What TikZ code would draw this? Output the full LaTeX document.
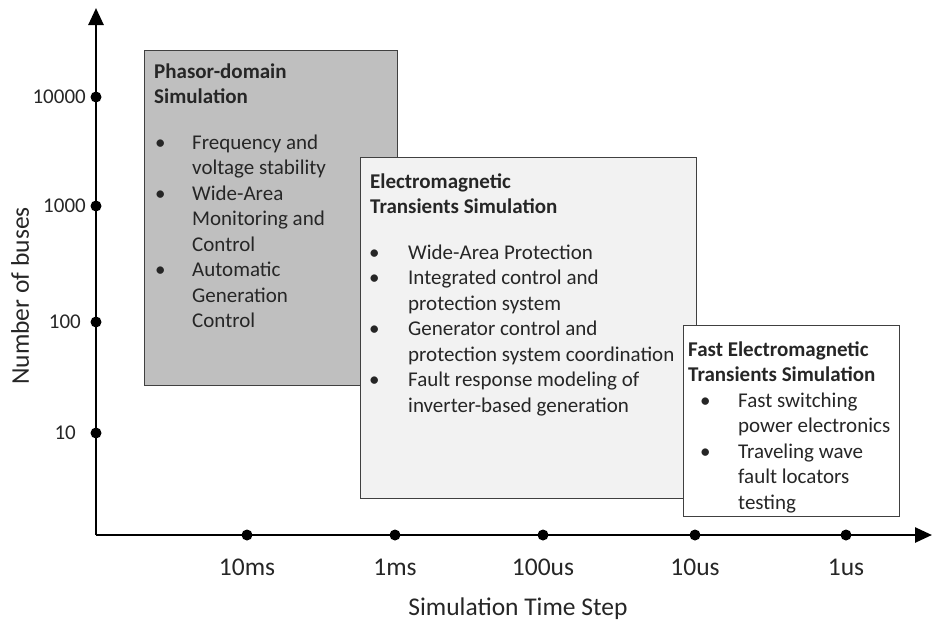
\documentclass[tikz,border=0pt]{standalone}
\usepackage{fontspec}
\setmainfont{Carlito}
\usepackage{array}
\usetikzlibrary{arrows.meta}

\definecolor{phasorgray}{RGB}{191,191,191}
\definecolor{emtgray}{RGB}{242,242,242}
\definecolor{frameline}{RGB}{64,64,64}
\definecolor{inktext}{RGB}{38,38,38}

\newcommand{\boxtitle}[1]{\multicolumn{2}{@{}l@{}}{\textbf{#1}}}

\begin{document}
\begin{tikzpicture}[x=1pt,y=-1pt,
  >={Triangle[length=17pt,width=15pt]},
  axis/.style={line width=2.6pt,->},
  tick dot/.style={circle,fill=black,inner sep=0pt,minimum size=11pt},
  sim box/.style={rectangle,draw=frameline,line width=1.4pt,anchor=north west,inner sep=0pt},
  box text/.style={anchor=base west,inner sep=0pt,text=inktext,
    font=\fontsize{21}{25.5}\selectfont},
  tick label/.style={inner sep=0pt,text=inktext,font=\fontsize{21}{25}\selectfont},
  axis label/.style={inner sep=0pt,text=inktext,font=\fontsize{25.5}{30}\selectfont}]

  \useasboundingbox (0,0) rectangle (932,622);

  % axes
  \coordinate (origin) at (96,535);
  \coordinate (ytop) at (96,8);
  \coordinate (xend) at (932,535);
  \draw[axis] (origin) -- (ytop);
  \draw[axis] (origin) -- (xend);

  % bus count ticks
  \node[tick dot] (b4) at (96,97) {};
  \node[tick dot] (b3) at (96,206) {};
  \node[tick dot] (b2) at (96,322) {};
  \node[tick dot] (b1) at (96,433) {};
  \node[tick label,anchor=east] at (86,97) {10000};
  \node[tick label,anchor=east] at (86,206) {1000};
  \node[tick label,anchor=east] at (81,322) {100};
  \node[tick label,anchor=east] at (76,433) {10};
  \node[axis label,rotate=90] (ylab) at (20,296) {Number of buses};

  % time step ticks
  \foreach \x/\lab in {247/10ms,395/1ms,543/100us,695/10us,846/1us}{
    \node[tick dot] (t\x) at (\x,535) {};
    \node[axis label] at (\x,567) {\lab};
  }
  \node[axis label] (xlab) at (518,609) {Simulation Time Step};

  % phasor-domain box
  \node[sim box,fill=phasorgray,minimum width=253pt,minimum height=335pt] (pd) at (144,50) {};
  \node[box text] (pdtext) at (154,78) {%
    \begin{tabular}[t]{@{}p{38pt}@{}l@{}}
      \boxtitle{Phasor-domain}\\
      \boxtitle{Simulation}\\[20pt]
      \hspace{1pt}\textbullet & Frequency and\\
      & voltage stability\\
      \hspace{1pt}\textbullet & Wide-Area\\
      & Monitoring and\\
      & Control\\
      \hspace{1pt}\textbullet & Automatic\\
      & Generation\\
      & Control
    \end{tabular}};

  % electromagnetic transients box
  \node[sim box,fill=emtgray,minimum width=336pt,minimum height=341pt] (emt) at (360,157) {};
  \node[box text] (emttext) at (370,188) {%
    \begin{tabular}[t]{@{}p{38pt}@{}l@{}}
      \boxtitle{Electromagnetic}\\
      \boxtitle{Transients Simulation}\\[20pt]
      \hspace{-1pt}\textbullet & Wide-Area Protection\\
      \hspace{-1pt}\textbullet & Integrated control and\\
      & protection system\\
      \hspace{-1pt}\textbullet & Generator control and\\
      & protection system coordination\\
      \hspace{-1pt}\textbullet & Fault response modeling of\\
      & inverter-based generation
    \end{tabular}};

  % fast electromagnetic transients box
  \node[sim box,fill=white,minimum width=216pt,minimum height=191pt] (femt) at (683,325) {};
  \node[box text] (femttext) at (688,356) {%
    \begin{tabular}[t]{@{}p{50pt}@{}l@{}}
      \boxtitle{Fast Electromagnetic}\\
      \boxtitle{Transients Simulation}\\[0pt]
      \hspace{12pt}\textbullet & Fast switching\\
      & power electronics\\
      \hspace{12pt}\textbullet & Traveling wave\\
      & fault locators\\
      & testing
    \end{tabular}};
\end{tikzpicture}
\end{document}
